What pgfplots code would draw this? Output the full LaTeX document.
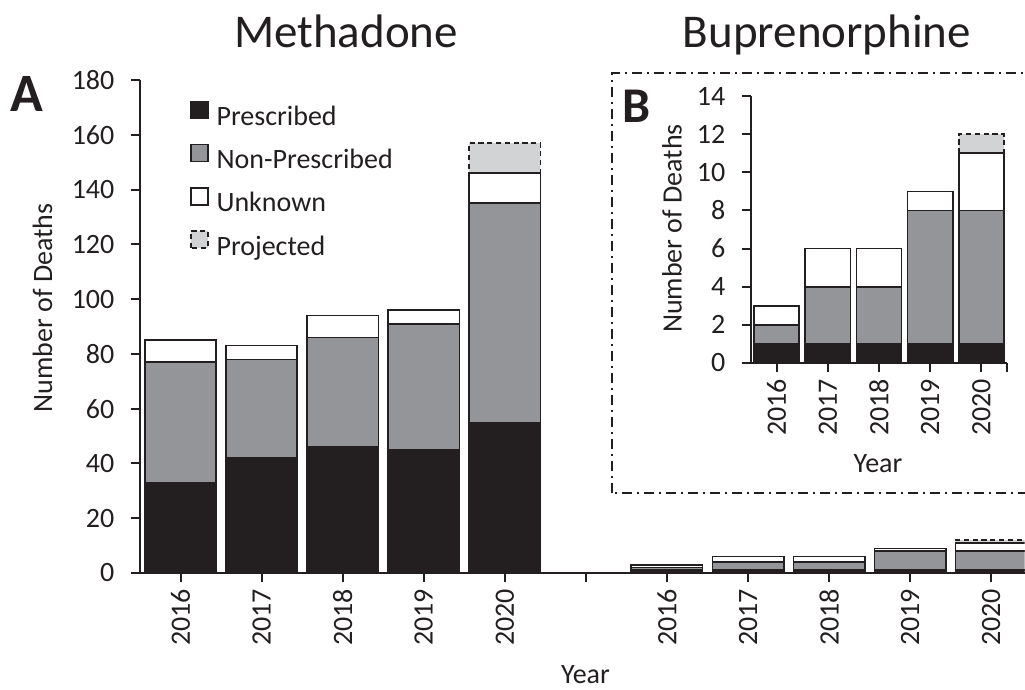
\documentclass[border=0pt]{standalone}
\usepackage{fontspec}
\setmainfont{Carlito}
\usepackage{pgfplots}
\usepackage{pgfplotstable}
\pgfplotsset{compat=1.18}
\definecolor{pres}{HTML}{231F20}
\definecolor{nonpres}{HTML}{939598}
\definecolor{proj}{HTML}{D1D3D4}
\definecolor{txt}{HTML}{231F20}
\newcommand\fs{\fontsize{14}{16.8}\selectfont}

\pgfplotstableread{
x P NP U Proj
0 33 44 8 0
1 42 36 5 0
2 46 40 8 0
3 45 46 5 0
4 55 80 11 11
6 1 1 1 0
7 1 3 2 0
8 1 3 2 0
9 1 7 1 0
10 1 7 3 1
}\maintable

\pgfplotstableread{
x P NP U Proj
0 1 1 1 0
1 1 3 2 0
2 1 3 2 0
3 1 7 1 0
4 1 7 3 1
}\insettable

\pgfplotsset{
  common/.style={
    scale only axis,
    axis lines=left,
    axis line style={-, line width=1pt, color=txt},
    tick align=outside,
    major tick length=4.5pt,
    tick style={line width=1pt, color=txt},
    ymin=0,
    ybar stacked, bar width=0.88,
    every tick label/.append style={font=\fs, text=txt},
    label style={font=\fs, text=txt},
    /pgf/number format/assume math mode=true,
    x tick label style={rotate=90, anchor=east},
    yticklabel style={xshift=-4.8pt},
    clip=true,
  },
  pbar/.style={fill=pres, draw=txt, line width=0.8pt},
  npbar/.style={fill=nonpres, draw=txt, line width=0.8pt},
  ubar/.style={fill=white, draw=txt, line width=0.8pt},
  prbar/.style={fill=proj, draw=txt, line width=0.8pt, dash pattern=on 2.6pt off 1.8pt},
}

\begin{document}
\begin{tikzpicture}
\begin{axis}[common,
  at={(70pt,58.5pt)}, anchor=south west,
  width=442.25pt, height=246.5pt,
  xmin=-0.5, xmax=10.41, ymax=180,
  ytick={0,20,...,180},
  xtick={0,1,...,10},
  xticklabels={2016,2017,2018,2019,2020,{},2016,2017,2018,2019,2020},
  ylabel={Number of Deaths},
  ylabel style={at={(axis description cs:-0.1102,0.5375)}, anchor=center},
  xlabel={Year},
  xlabel style={at={(axis description cs:0.5037,0)}, anchor=base, inner sep=0pt, yshift=-55.5pt},
  legend style={at={(axis description cs:0.056,0.959)}, anchor=north west,
    draw=none, fill=none, font=\fs, text=txt, inner sep=0pt,
    row sep=6.2pt, column sep=4pt,
    nodes={inner sep=0pt, text height=10pt, text depth=3pt}},
  legend cell align=left,
  legend image code/.code={\draw[#1] (0pt,0pt) rectangle (8.5pt,8.5pt);},
]
\addplot[pbar] table[x=x,y=P]{\maintable};
\addlegendentry{Prescribed}
\addplot[npbar] table[x=x,y=NP]{\maintable};
\addlegendentry{Non-Prescribed}
\addplot[ubar] table[x=x,y=U]{\maintable};
\addlegendentry{Unknown}
\addplot[prbar] table[x=x,y=Proj]{\maintable};
\addlegendentry{Projected}
\end{axis}

\draw[txt, line width=1pt, dash pattern=on 5pt off 2.5pt on 1pt off 2.5pt]
  (306pt,98.5pt) rectangle (530pt,308.5pt);

\begin{axis}[common,
  at={(375.5pt,163.5pt)}, anchor=south west,
  width=128pt, height=133.5pt,
  xmin=-0.5, xmax=4.5, ymax=14,
  ytick={0,2,...,14},
  xtick={0,1,2,3,4,4.5},
  xticklabels={2016,2017,2018,2019,2020,{}},
  ylabel={Number of Deaths},
  ylabel style={at={(axis description cs:-0.3086,0.5037)}, anchor=center},
  xlabel={Year},
  xlabel style={at={(axis description cs:0.496,0)}, anchor=base, yshift=-55pt},
]
\addplot[pbar] table[x=x,y=P]{\insettable};
\addplot[npbar] table[x=x,y=NP]{\insettable};
\addplot[ubar] table[x=x,y=U]{\insettable};
\addplot[prbar] table[x=x,y=Proj]{\insettable};
\end{axis}

\node[font=\fontsize{23.5}{28}\selectfont, text=txt, anchor=base] at (173pt,321.25pt) {Methadone};
\node[font=\fontsize{23.5}{28}\selectfont, text=txt, anchor=base] at (413.5pt,321.25pt) {Buprenorphine};
\node[font=\fontsize{27}{30}\selectfont\bfseries, text=txt, anchor=base west, inner sep=0pt] at (5pt,289pt) {A};
\node[font=\fontsize{25}{28}\selectfont\bfseries, text=txt, anchor=base west, inner sep=0pt] at (311pt,283.5pt) {B};

\pgfresetboundingbox
\useasboundingbox (0pt,0pt) rectangle (512.5pt,345pt);
\end{tikzpicture}
\end{document}
